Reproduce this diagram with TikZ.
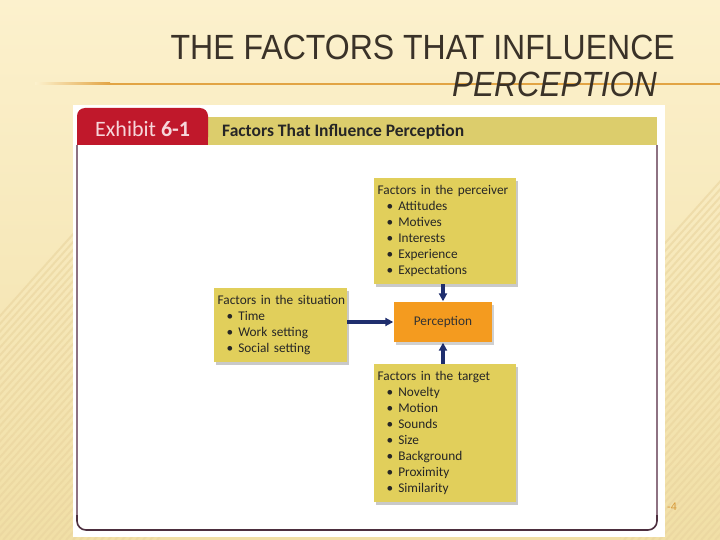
\documentclass[tikz,border=0pt]{standalone}
\usepackage{fontspec}
\setmainfont{Liberation Sans}
\newfontfamily\boxfont{Carlito}
\newfontfamily\hdrfont{Carlito}
\usetikzlibrary{arrows.meta,shadows}
\definecolor{bgtop}{HTML}{FCF1CD}
\definecolor{bgbot}{HTML}{F1DFA6}
\definecolor{stripe}{HTML}{E9D49E}
\definecolor{rule}{HTML}{E2A444}
\definecolor{titlecol}{HTML}{3A3228}
\definecolor{tabred}{HTML}{C0182B}
\definecolor{tabtext}{HTML}{F6D6DA}
\definecolor{hdryellow}{HTML}{DCCD6C}
\definecolor{framecol}{HTML}{8E7282}
\definecolor{framedark}{HTML}{4C2E3E}
\definecolor{boxyellow}{HTML}{E1CF5B}
\definecolor{perorange}{HTML}{F49B1F}
\definecolor{navy}{HTML}{1F2E6E}
\definecolor{pagenum}{HTML}{D79A3A}
\tikzset{
  fbox/.style={fill=boxyellow, draw=none, align=left, anchor=north west,
    inner xsep=3.5pt, inner ysep=0pt,
    font=\boxfont\fontsize{13.3}{16}\selectfont, text=black!85,
    drop shadow={shadow xshift=2pt, shadow yshift=-2.5pt, opacity=0.35, fill=black!60}},
  arr/.style={navy, line width=3.5pt, -{Triangle[length=8pt,width=8pt]}, shorten >=0.5pt}
}
\newcommand{\itm}[1]{\hspace*{9pt}\textbullet\hspace{5pt}#1}
\begin{document}
\begin{tikzpicture}[x=1pt,y=-1pt]
\useasboundingbox (0,0) rectangle (720,540);
% background
\shade[top color=bgtop, bottom color=bgbot] (0,0) rectangle (720,540);
\begin{scope}
  \clip (0,0) rectangle (160,540);
  \foreach \i in {0,7,...,720} { \draw[stripe, line width=2pt, opacity=0.6] (\i-200,540) -- (\i+300,-20); }
\end{scope}
\begin{scope}
  \clip (620,0) rectangle (720,540);
  \foreach \i in {600,607,...,1300} { \draw[stripe, line width=2pt, opacity=0.6] (\i-200,540) -- (\i+300,-20); }
\end{scope}
% rule
\shade[left color=bgtop, right color=rule] (35,83) rectangle (110,85);
\fill[rule] (110,83) rectangle (720,85);
% title
\node[anchor=base east, text=titlecol, font=\fontsize{35}{35}\selectfont, inner sep=0pt] (t1) at (675,60) {\scalebox{0.915}[1]{THE FACTORS THAT INFLUENCE}};
\node[anchor=base east, text=titlecol, font=\itshape\fontsize{35}{35}\selectfont, inner sep=0pt] (t2) at (657,97) {\scalebox{0.9}[1]{PERCEPTION}};
% panel
\fill[white] (73,105) rectangle (665,537);
\fill[hdryellow] (208,117) rectangle (657,145);
\fill[tabred, rounded corners=8pt] (77,145) -- (77,108) -- (208,108) -- (208,145) -- cycle;
\fill[tabred] (77,135) rectangle (208,145);
\node[anchor=base west, text=tabtext, font=\hdrfont\fontsize{22}{22}\selectfont, inner sep=0pt] (ex) at (95,137) {Exhibit \textbf{6-1}};
\node[anchor=base west, text=black!85, font=\hdrfont\bfseries\fontsize{17.5}{17.5}\selectfont, inner sep=0pt] (hd) at (222,137) {Factors That Influence Perception};
\draw[framecol, line width=1.3pt] (77,145) -- (77,520);
\draw[framecol, line width=1.3pt] (657,145) -- (657,520);
\draw[framedark, line width=1.6pt, rounded corners=9pt] (77,515) -- (77,530) -- (657,530) -- (657,515);
% boxes
\node[fbox, minimum width=142pt, minimum height=106pt, text width=135pt] (perc) at (374,178) {%
Factors in the perceiver\\ \itm{Attitudes}\\ \itm{Motives}\\ \itm{Interests}\\ \itm{Experience}\\ \itm{Expectations}};
\node[fbox, minimum width=133pt, minimum height=74pt, text width=126pt] (sit) at (214,288) {%
\mbox{Factors in the situation}\\ \itm{Time}\\ \itm{Work setting}\\ \itm{Social setting}};
\node[fbox, minimum width=142pt, minimum height=138pt, text width=135pt] (targ) at (374,364) {%
Factors in the target\\ \itm{Novelty}\\ \itm{Motion}\\ \itm{Sounds}\\ \itm{Size}\\ \itm{Background}\\ \itm{Proximity}\\ \itm{Similarity}};
\node[fill=perorange, minimum width=98pt, minimum height=40pt, inner sep=0pt, font=\boxfont\fontsize{13.3}{16}\selectfont, text=black!80,
  drop shadow={shadow xshift=2pt, shadow yshift=-2.5pt, opacity=0.3, fill=black!60}] (pcp) at (443,322) {Perception};
% arrows
\draw[arr] (perc.south -| pcp) -- (pcp.north);
\draw[arr] (targ.north -| pcp) -- (pcp.south);
\draw[arr] (sit.east |- pcp) -- (pcp.west);
% page number
\node[anchor=base west, text=pagenum, font=\fontsize{11}{11}\selectfont, inner sep=0pt] (pg) at (667,510) {-4};
\end{tikzpicture}
\end{document}
